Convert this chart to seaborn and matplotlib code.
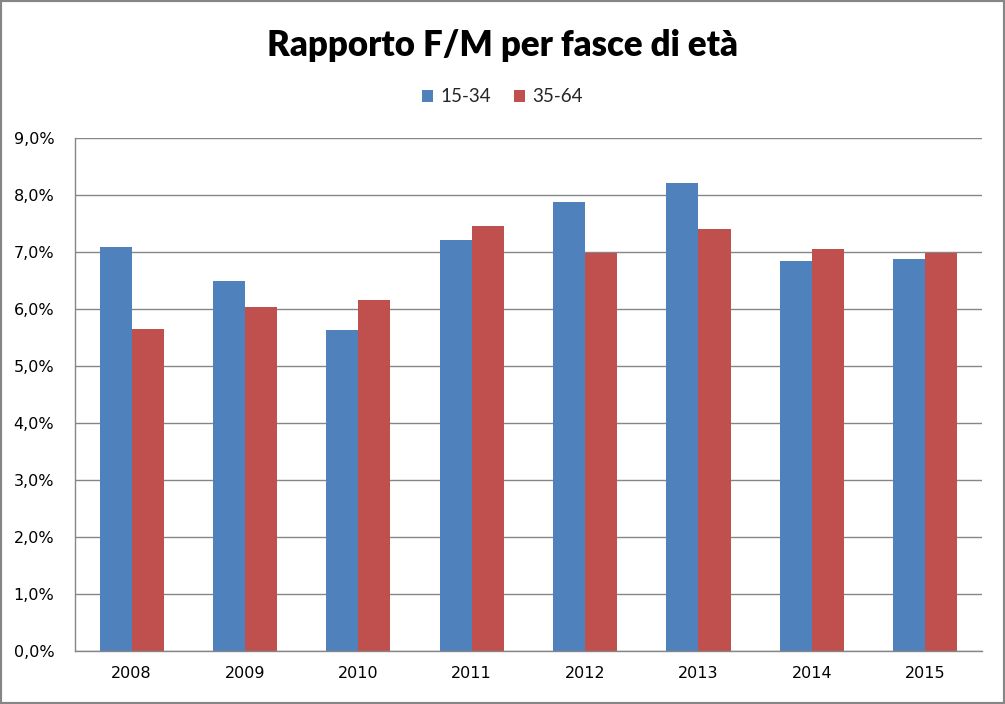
import pandas as pd
import numpy as np
import seaborn as sns
import matplotlib.pyplot as plt
from matplotlib.patches import Rectangle
from matplotlib.ticker import FuncFormatter, FixedLocator

anni = ['2008', '2009', '2010', '2011', '2012', '2013', '2014', '2015']
giovani = [7.09, 6.49, 5.63, 7.21, 7.88, 8.21, 6.84, 6.88]   # 15-34
adulti = [5.65, 6.04, 6.16, 7.46, 6.98, 7.40, 7.05, 6.98]    # 35-64
fasce = ['15-34', '35-64']
colori = ['#4F81BD', '#C0504D']

df = pd.DataFrame({
    'anno': anni * 2,
    'fascia': [fasce[0]] * len(anni) + [fasce[1]] * len(anni),
    'valore': giovani + adulti,
})

sns.set_style('white')
plt.rcParams['font.family'] = ['DejaVu Sans']

fig = plt.figure(figsize=(10.05, 7.04), dpi=100)
ax = fig.add_axes([0.0746, 0.0753, 0.9024, 0.7287])

sns.barplot(data=df, x='anno', y='valore', hue='fascia', palette=colori,
            width=0.565, saturation=1, linewidth=0, ax=ax, legend=True)

ax.set_xlim(-0.5, len(anni) - 0.5)
ax.set_ylim(0, 9)
ax.set_yticks(np.arange(0, 10, 1))
ax.yaxis.set_major_formatter(FuncFormatter(lambda v, p: f'{v:.1f}%'.replace('.', ',')))
ax.yaxis.grid(True, color='#868686', linewidth=1)
ax.set_axisbelow(True)
ax.set_xlabel('')
ax.set_ylabel('')

# tick a la Excel: trattini tra le categorie
ax.xaxis.set_minor_locator(FixedLocator(np.arange(-0.5, len(anni), 1)))
ax.tick_params(axis='x', which='major', length=0, pad=11, labelsize=11.5, colors='black')
ax.tick_params(axis='x', which='minor', length=6, color='#868686', direction='out')
ax.tick_params(axis='y', length=6, color='#868686', direction='out', labelsize=11.5,
               pad=9, labelcolor='black')

for s in ['top', 'right']:
    ax.spines[s].set_visible(False)
for s in ['left', 'bottom']:
    ax.spines[s].set_color('#868686')
    ax.spines[s].set_linewidth(1)

leg = ax.legend(loc='center', ncol=2, frameon=False, handlelength=0.6, handleheight=0.6,
                handletextpad=0.4, columnspacing=1.2, prop={'family': 'Lato', 'size': 13.5})
leg.set_bbox_to_anchor((0.5, 1 - 97 / 704), transform=fig.transFigure)

fig.text(0.5, 1 - 45 / 704, 'Rapporto F/M per fasce di età', ha='center', va='center',
         fontsize=25, fontweight='heavy', family='Lato', color='black')

fig.patches.append(Rectangle((0, 0), 1, 1, transform=fig.transFigure, fill=False,
                             edgecolor='#868686', linewidth=3))

fig.savefig('out.png', dpi=100)
